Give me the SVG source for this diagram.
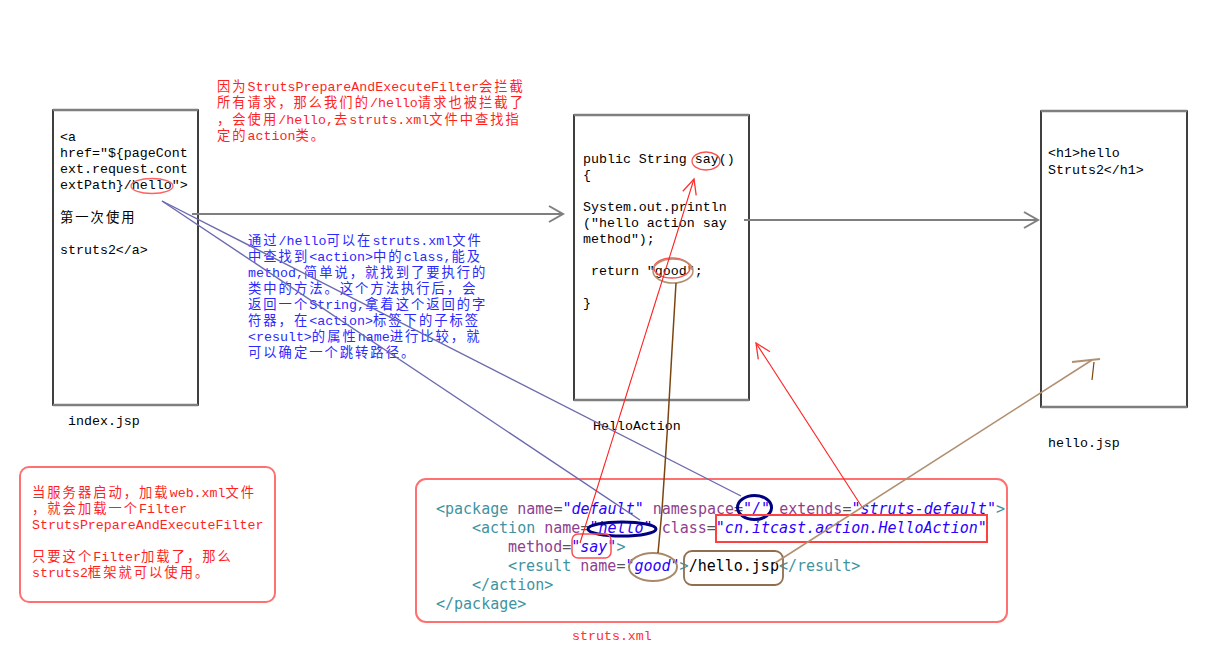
<svg xmlns="http://www.w3.org/2000/svg" width="1208" height="663" viewBox="0 0 1208 663">
<style>
.m{font-family:"Liberation Mono","Noto Sans CJK SC",monospace;font-size:13.3px;fill:#000}
.c{letter-spacing:2px}
.red{fill:#ff1f1f}
.blue{fill:#2a2aff}
.x{font-family:"DejaVu Sans Mono","Liberation Mono",monospace;font-size:15px}
.t{fill:#3f939f}
.a{fill:#8f3f8f}
.v{fill:#2a00ff;font-style:italic}
.e{fill:#555}
.k{fill:#000}
.box{fill:#fff;stroke:#000;stroke-width:1.5}
.edge{stroke:#7f7f7f;stroke-width:2.5}
.note{fill:none;stroke:#ff7070;stroke-width:2}
</style>
<defs>
<marker id="chev" markerUnits="userSpaceOnUse" viewBox="-16 -10 18 20" markerWidth="18" markerHeight="20" refX="0" refY="0" orient="auto">
<path d="M-14,-8 L0,0 L-14,8" fill="none" stroke="#7f7f7f" stroke-width="2"/>
</marker>
<marker id="redhead" markerUnits="userSpaceOnUse" viewBox="-18 -10 20 20" markerWidth="20" markerHeight="20" refX="0" refY="0" orient="auto">
<path d="M-15,-7 L0,0 L-15,7" fill="none" stroke="#ff3030" stroke-width="1.3"/>
</marker>
</defs>
<rect width="1208" height="663" fill="#fff"/>

<g id="index-jsp">
<rect class="box" x="53" y="110" width="145" height="295"/>
<line class="edge" x1="53" y1="110" x2="198" y2="110"/>
<line class="edge" x1="53" y1="405" x2="198" y2="405"/>
<text class="m" x="60" y="141">&lt;a</text>
<text class="m" x="60" y="157">href="${pageCont</text>
<text class="m" x="60" y="173">ext.request.cont</text>
<text class="m" x="60" y="189">extPath}/hello"&gt;</text>
<text class="m" x="60" y="222"><tspan class="c">第一次使用</tspan></text>
<text class="m" x="60" y="254">struts2&lt;/a&gt;</text>
<ellipse cx="152" cy="186" rx="21" ry="7.5" fill="none" stroke="#ff6060" stroke-width="1.3"/>
<text class="m" x="68" y="425">index.jsp</text>
</g>

<g id="hello-action">
<rect class="box" x="574" y="115" width="175" height="285"/>
<line class="edge" x1="574" y1="115" x2="749" y2="115"/>
<line class="edge" x1="574" y1="400" x2="749" y2="400"/>
<text class="m" x="583" y="163">public String say()</text>
<text class="m" x="583" y="179">{</text>
<text class="m" x="583" y="211">System.out.println</text>
<text class="m" x="583" y="227">("hello action say</text>
<text class="m" x="583" y="243">method");</text>
<text class="m" x="591" y="275">return "good";</text>
<text class="m" x="583" y="307">}</text>
<ellipse cx="706" cy="161" rx="14" ry="9" fill="none" stroke="#ff5050" stroke-width="1.3"/>
<ellipse cx="672" cy="268" rx="18" ry="10" fill="none" stroke="#ff5050" stroke-width="1.5"/>
<ellipse cx="673" cy="271" rx="20" ry="12" fill="none" stroke="#b09070" stroke-width="1.5"/>
<text class="m" x="593" y="430">HelloAction</text>
</g>

<g id="hello-jsp">
<rect class="box" x="1041" y="111" width="146" height="296"/>
<line class="edge" x1="1041" y1="111" x2="1187" y2="111"/>
<line class="edge" x1="1041" y1="407" x2="1187" y2="407"/>
<text class="m" x="1048" y="157">&lt;h1&gt;hello</text>
<text class="m" x="1048" y="174">Struts2&lt;/h1&gt;</text>
<text class="m" x="1048" y="447">hello.jsp</text>
</g>

<g id="note-filter">
<text class="m red" x="217" y="91"><tspan class="c">因为</tspan>StrutsPrepareAndExecuteFilter<tspan class="c">会拦截</tspan></text>
<text class="m red" x="217" y="107"><tspan class="c">所有请求，那么我们的</tspan>/hello<tspan class="c">请求也被拦截了</tspan></text>
<text class="m red" x="217" y="124"><tspan class="c">，会使用</tspan>/hello,<tspan class="c">去</tspan>struts.xml<tspan class="c">文件中查找指</tspan></text>
<text class="m red" x="217" y="140"><tspan class="c">定的</tspan>action<tspan class="c">类。</tspan></text>
</g>

<g id="note-lookup">
<text class="m blue" x="248" y="245"><tspan class="c">通过</tspan>/hello<tspan class="c">可以在</tspan>struts.xml<tspan class="c">文件</tspan></text>
<text class="m blue" x="248" y="261"><tspan class="c">中查找到</tspan>&lt;action&gt;<tspan class="c">中的</tspan>class,<tspan class="c">能及</tspan></text>
<text class="m blue" x="248" y="277">method,<tspan class="c">简单说，就找到了要执行的</tspan></text>
<text class="m blue" x="248" y="293"><tspan class="c">类中的方法。这个方法执行后，会</tspan></text>
<text class="m blue" x="248" y="309"><tspan class="c">返回一个</tspan>String,<tspan class="c">拿着这个返回的字</tspan></text>
<text class="m blue" x="248" y="325"><tspan class="c">符器，在</tspan>&lt;action&gt;<tspan class="c">标签下的子标签</tspan></text>
<text class="m blue" x="248" y="341">&lt;result&gt;<tspan class="c">的属性</tspan>name<tspan class="c">进行比较，就</tspan></text>
<text class="m blue" x="248" y="357"><tspan class="c">可以确定一个跳转路径。</tspan></text>
</g>

<g id="note-startup">
<rect class="note" x="20" y="467" width="255" height="135" rx="9"/>
<text class="m red" x="32" y="497"><tspan class="c">当服务器启动，加载</tspan>web.xml<tspan class="c">文件</tspan></text>
<text class="m red" x="32" y="513"><tspan class="c">，就会加载一个</tspan>Filter</text>
<text class="m red" x="32" y="529">StrutsPrepareAndExecuteFilter</text>
<text class="m red" x="32" y="561"><tspan class="c">只要这个</tspan>Filter<tspan class="c">加载了，那么</tspan></text>
<text class="m red" x="32" y="577">struts2<tspan class="c">框架就可以使用。</tspan></text>
</g>

<g id="struts-xml">
<rect class="note" x="416" y="479" width="591" height="143" rx="10"/>
<text class="x" x="436" y="514"><tspan class="t">&lt;package</tspan><tspan class="a"> name</tspan><tspan class="e">=</tspan><tspan class="v">"default"</tspan><tspan class="a"> namespace</tspan><tspan class="e">=</tspan><tspan class="v">"/"</tspan><tspan class="a"> extends</tspan><tspan class="e">=</tspan><tspan class="v">"struts-default"</tspan><tspan class="t">&gt;</tspan></text>
<text class="x" x="472" y="533"><tspan class="t">&lt;action</tspan><tspan class="a"> name</tspan><tspan class="e">=</tspan><tspan class="v">"hello"</tspan><tspan class="a"> class</tspan><tspan class="e">=</tspan><tspan class="v">"cn.itcast.action.HelloAction"</tspan></text>
<text class="x" x="508" y="552"><tspan class="a">method</tspan><tspan class="e">=</tspan><tspan class="v">"say"</tspan><tspan class="t">&gt;</tspan></text>
<text class="x" x="508" y="571"><tspan class="t">&lt;result</tspan><tspan class="a"> name</tspan><tspan class="e">=</tspan><tspan class="v">"good"</tspan><tspan class="t">&gt;</tspan><tspan class="k">/hello.jsp</tspan><tspan class="t">&lt;/result&gt;</tspan></text>
<text class="x" x="472" y="590"><tspan class="t">&lt;/action&gt;</tspan></text>
<text class="x" x="436" y="609"><tspan class="t">&lt;/package&gt;</tspan></text>
<ellipse cx="754.5" cy="507.5" rx="17" ry="12" fill="none" stroke="#000080" stroke-width="3"/>
<ellipse cx="622" cy="529" rx="34" ry="7" fill="none" stroke="#000080" stroke-width="3"/>
<rect x="716" y="515" width="271" height="27" fill="none" stroke="#ff4040" stroke-width="2"/>
<rect x="572" y="534" width="39" height="24" rx="6" fill="none" stroke="#ff5050" stroke-width="1.5"/>
<ellipse cx="653" cy="567" rx="24" ry="14" fill="none" stroke="#a88a6a" stroke-width="2"/>
<rect x="684" y="551" width="99" height="34" rx="8" fill="none" stroke="#8f6f4f" stroke-width="1.8"/>
<text class="m" x="572" y="640" style="fill:#ff3030">struts.xml</text>
</g>

<g id="connectors">
<line x1="192" y1="214" x2="563" y2="214" stroke="#7f7f7f" stroke-width="2.2" marker-end="url(#chev)"/>
<line x1="744" y1="220" x2="1038" y2="220" stroke="#7f7f7f" stroke-width="2.2" marker-end="url(#chev)"/>
<line x1="162" y1="201" x2="741" y2="496" stroke="#6a6aae" stroke-width="1.4"/>
<line x1="162" y1="201" x2="640" y2="520" stroke="#6a6aae" stroke-width="1.4"/>
<line x1="580" y1="543" x2="694" y2="179" stroke="#ff2020" stroke-width="1.1" marker-end="url(#redhead)"/>
<line x1="862" y1="507" x2="756" y2="343" stroke="#ff2020" stroke-width="1.1" marker-end="url(#redhead)"/>
<polyline points="658,553 662,510 668,420 672,350 676,283" fill="none" stroke="#7a4510" stroke-width="1.5"/>
<line x1="775" y1="563" x2="1092" y2="360" stroke="#b09070" stroke-width="1.6"/>
<line x1="1072" y1="362" x2="1100" y2="359" stroke="#b09070" stroke-width="2"/>
<line x1="1094" y1="362" x2="1092" y2="380" stroke="#7a4510" stroke-width="1.2"/>
</g>
</svg>
